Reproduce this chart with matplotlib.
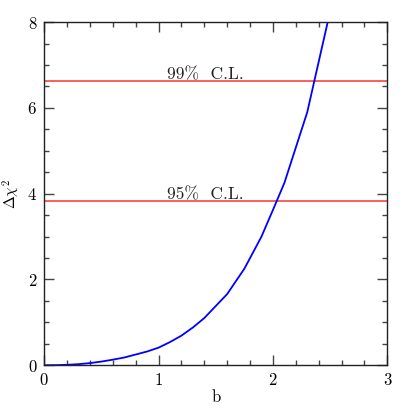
import matplotlib
matplotlib.use("Agg")
import matplotlib.pyplot as plt
from matplotlib.ticker import MultipleLocator

b = [0, 0.1, 0.2, 0.3, 0.4, 0.5, 0.6, 0.7, 0.8, 0.9, 1.0, 1.1, 1.2, 1.3, 1.4, 1.6, 1.75, 1.9, 2.0, 2.1, 2.3, 2.5]
dchi2 = [0, 0.002, 0.01, 0.025, 0.05, 0.085, 0.13, 0.18, 0.25, 0.32, 0.41, 0.54, 0.69, 0.88, 1.1, 1.66, 2.25, 3.0, 3.62, 4.25, 5.9, 8.25]
cl_levels = [3.84, 6.63]
cl_labels = ["95%  C.L.", "99%  C.L."]

plt.rcParams['font.family'] = ['cmr10', 'DejaVu Serif']
plt.rcParams['mathtext.fontset'] = 'cm'
plt.rcParams['axes.formatter.use_mathtext'] = True

fig = plt.figure(figsize=(4.09, 4.09), dpi=100)
ax = fig.add_axes([0.108, 0.107, 0.839, 0.839])

for lev, lab in zip(cl_levels, cl_labels):
    ax.axhline(lev, color='#ff3030', lw=1.1)
    ax.text(1.41, lev + 0.03, lab, ha='center', va='baseline', fontsize=12.5, color='#222222')

ax.plot(b, dchi2, color='#0000ff', lw=1.3)

ax.set_xlim(0, 3)
ax.set_ylim(0, 8)
ax.xaxis.set_major_locator(MultipleLocator(1))
ax.xaxis.set_minor_locator(MultipleLocator(0.2))
ax.yaxis.set_major_locator(MultipleLocator(2))
ax.yaxis.set_minor_locator(MultipleLocator(0.5))
ax.tick_params(which='both', direction='in', top=True, right=True, color='#444444', labelsize=12, pad=5)
ax.tick_params(which='major', length=7, width=1)
ax.tick_params(which='minor', length=3.5, width=1)
for s in ax.spines.values():
    s.set_linewidth(1)
    s.set_color('#222222')

ax.set_xlabel('b', fontsize=12, labelpad=1)
ax.set_ylabel(r'$\Delta\chi^2$', fontsize=11, labelpad=4)

fig.savefig('out.png', dpi=100)
